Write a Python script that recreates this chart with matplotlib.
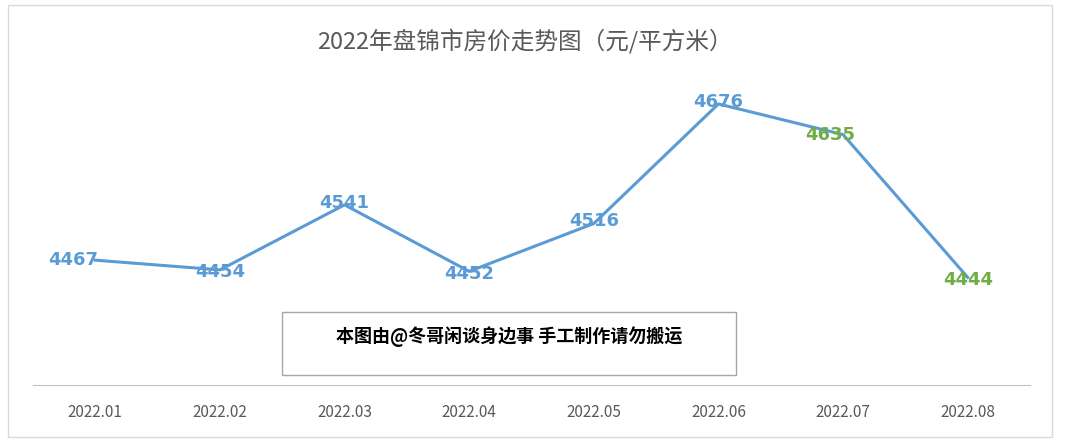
import matplotlib
matplotlib.use("Agg")
import matplotlib.pyplot as plt
from matplotlib.patches import Rectangle

months = ["2022.01","2022.02","2022.03","2022.04","2022.05","2022.06","2022.07","2022.08"]
prices = [4467, 4454, 4541, 4452, 4516, 4676, 4635, 4444]
label_colors = ["#5B9BD5"]*6 + ["#70AD47"]*2
label_offsets = [(-22, 0), (0, -3), (0, 3), (0, -3), (0, 3), (0, 3), (-13, 0), (0, -3)]

plt.rcParams["font.family"] = ["Noto Sans CJK SC", "DejaVu Sans"]
W, H = 1065, 441
fig = plt.figure(figsize=(W/100, H/100), dpi=100)
fig.patch.set_facecolor("white")
fig.add_artist(Rectangle((8/W, 4/H), 1044/W, 432/H, transform=fig.transFigure,
                         fill=False, edgecolor="#D9D9D9", lw=1))

ax = fig.add_axes([33/W, (H-385)/H, 997/W, 299/H])
x = list(range(len(months)))
ax.plot(x, prices, color="#5B9BD5", lw=2.2)
for xi, p, c, (dx, dy) in zip(x, prices, label_colors, label_offsets):
    ax.text(xi + dx/124.6, p + dy, str(p), color=c, fontsize=13, fontweight="bold",
            ha="center", va="center", family="DejaVu Sans")
ax.set_xlim(-0.5, 7.5)
ax.set_ylim(4300, 4700)
ax.set_yticks([])
ax.set_xticks(x)
ax.set_xticklabels(months, fontsize=11, color="#595959")
ax.tick_params(axis="x", length=0, pad=14)
for s in ["top", "right", "left"]:
    ax.spines[s].set_visible(False)
ax.spines["bottom"].set_color("#BFBFBF")
ax.set_facecolor("none")

fig.text(525/W, (H-42)/H, "2022年盘锦市房价走势图（元/平方米）", ha="center", va="center",
         fontsize=17, color="#595959")
fig.add_artist(Rectangle((282/W, (H-375)/H), 454/W, 63/H, transform=fig.transFigure,
                         facecolor="white", edgecolor="#A6A6A6", lw=1))
fig.text(509/W, (H-337)/H, "本图由@冬哥闲谈身边事 手工制作请勿搬运", ha="center", va="center",
         fontsize=13, fontweight="bold", color="black")
fig.savefig("out.png", dpi=100)
